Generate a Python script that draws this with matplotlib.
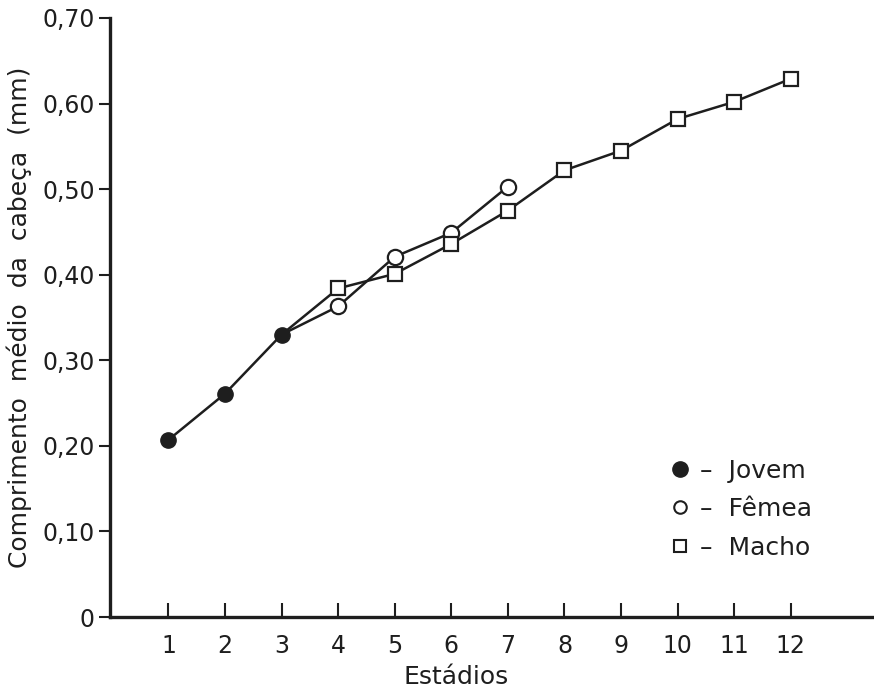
import matplotlib
matplotlib.use("Agg")
import matplotlib.pyplot as plt
from matplotlib.lines import Line2D

# Estádios and mean head length (mm)
jovem_x = [1, 2, 3]
jovem_y = [0.207, 0.261, 0.330]

# female and male lines both start from the last juvenile stage
femea_x = [3, 4, 5, 6, 7]
femea_y = [0.330, 0.363, 0.421, 0.449, 0.503]

macho_x = [3, 4, 5, 6, 7, 8, 9, 10, 11, 12]
macho_y = [0.330, 0.384, 0.401, 0.436, 0.475, 0.522, 0.545, 0.582, 0.602, 0.629]

yticks = [0, 0.1, 0.2, 0.3, 0.4, 0.5, 0.6, 0.7]
ytick_labels = ["0", "0,10", "0,20", "0,30", "0,40", "0,50", "0,60", "0,70"]
xticks = list(range(1, 13))

plt.rcParams['font.family'] = ['DejaVu Sans']
ink = "#1e1e1e"

fig = plt.figure(figsize=(8.74, 6.91), dpi=100)
ax = fig.add_axes([0.126, 0.107, 0.874, 0.867])

ax.plot(femea_x, femea_y, color=ink, lw=1.8, marker='o', ms=11,
        mfc='white', mec=ink, mew=1.6, markevery=slice(1, None), zorder=3)
ax.plot(macho_x, macho_y, color=ink, lw=1.8, marker='s', ms=10,
        mfc='white', mec=ink, mew=1.6, markevery=slice(1, None), zorder=3)
ax.plot(jovem_x, jovem_y, color=ink, lw=1.8, marker='o', ms=11,
        mfc=ink, mec=ink, zorder=4)

ax.set_xlim(-0.03, 13.47)
ax.set_ylim(0, 0.70)
ax.set_xticks(xticks)
ax.set_xticklabels([str(x) for x in xticks])
ax.set_yticks(yticks)
ax.set_yticklabels(ytick_labels)

for side in ['top', 'right']:
    ax.spines[side].set_visible(False)
for side in ['left', 'bottom']:
    ax.spines[side].set_linewidth(2.4)
    ax.spines[side].set_color(ink)

ax.tick_params(axis='y', direction='out', length=8, width=1.5, colors=ink,
               labelsize=17, pad=3)
ax.tick_params(axis='x', direction='in', length=10, width=1.5, colors=ink,
               labelsize=17, pad=12)

ax.set_xlabel("Estádios", fontsize=18, color=ink)
ax.xaxis.set_label_coords(0.453, -0.08)
ax.set_ylabel("Comprimento  médio  da  cabeça  (mm)", fontsize=18, color=ink,
              labelpad=7)

handles = [
    Line2D([], [], ls='none', marker='o', ms=11, mfc=ink, mec=ink),
    Line2D([], [], ls='none', marker='o', ms=9, mfc='white', mec=ink, mew=1.5),
    Line2D([], [], ls='none', marker='s', ms=9, mfc='white', mec=ink, mew=1.5),
]
labels = ["–  Jovem", "–  Fêmea", "–  Macho"]
ax.legend(handles, labels, loc='upper left', bbox_to_anchor=(0.704, 0.302),
          frameon=False, fontsize=18, handlelength=0.8, handletextpad=0.4,
          labelspacing=0.58, labelcolor=ink)

fig.savefig("out.png", dpi=100)
